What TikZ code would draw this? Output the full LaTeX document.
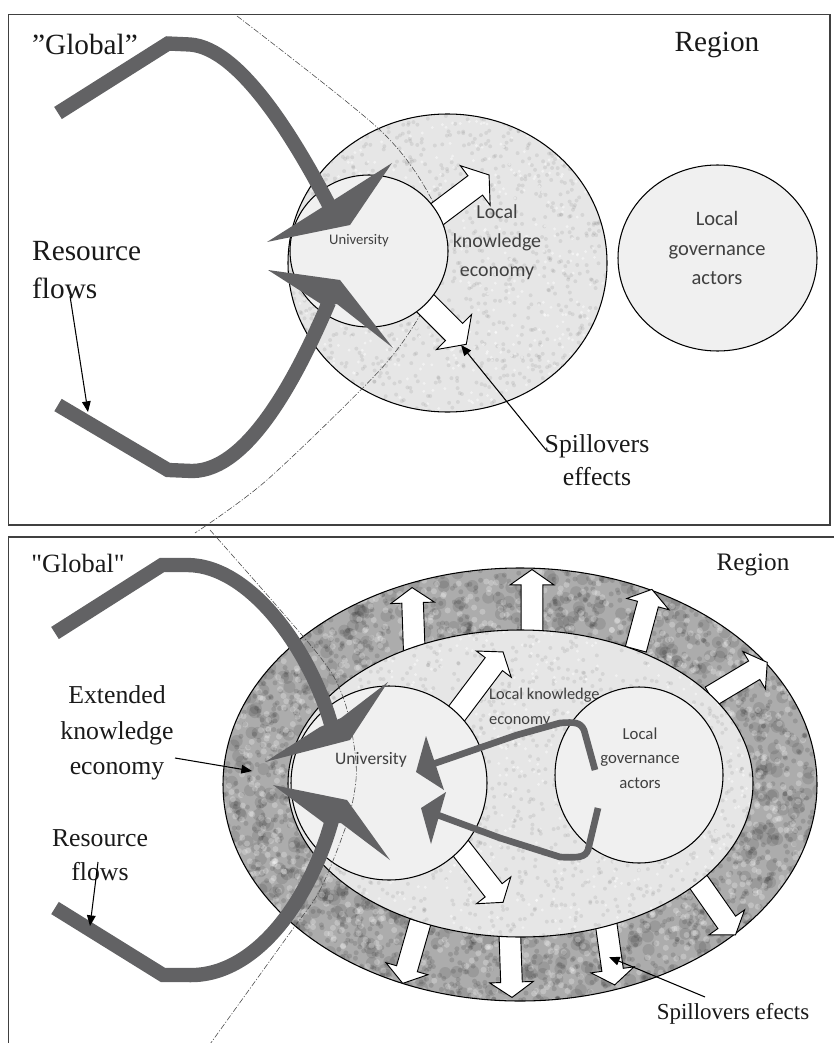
\documentclass[tikz,border=0pt]{standalone}
\usepackage{fontspec}
\setmainfont{Liberation Serif}
\newfontfamily\rawserif{Liberation Serif}[Ligatures=TeXOff]
\newfontfamily\calibri{Carlito}
\usetikzlibrary{arrows.meta,shapes.arrows}

\definecolor{bandgray}{RGB}{98,98,100}
\definecolor{ringdark}{RGB}{172,172,172}
\definecolor{ringlight}{RGB}{230,230,230}
\definecolor{circfill}{RGB}{240,240,240}

\begin{document}
\begin{tikzpicture}[
    x=0.03cm, y=-0.03cm,
    frame/.style={draw=black!75, line width=1.4pt},
    zone/.style={draw=black, line width=0.9pt},
    disc/.style={draw=black, line width=0.9pt, fill=circfill},
    band/.style={draw=bandgray, line width=0.43cm, line join=miter},
    thinband/.style={draw=bandgray, line width=0.2cm, line join=round},
    bandhead/.style={fill=bandgray},
    border/.style={draw=black!70, line width=0.5pt, dash pattern=on 5pt off 1.5pt on 1pt off 1.5pt},
    spill/.style={single arrow, draw=black, fill=white, line width=0.8pt,
        inner xsep=0pt, inner ysep=0.31cm, minimum width=0pt,
        single arrow head extend=0.33cm, single arrow tip angle=110,
        anchor=tail, minimum height=#1*0.03cm},
    bigspill/.style={inner ysep=0.35cm, single arrow head extend=0.38cm},
    pointer/.style={-{Triangle[length=0.32cm, width=0.26cm]}, line width=0.9pt},
    lbl/.style={inner sep=0pt, text=black!90, align=center},
    sans/.style={inner sep=0pt, text=black!75, align=center, font=\calibri}
]
\useasboundingbox (0,0) rectangle (833,1043);
\pgfmathsetseed{12}

% ---------------- Top panel ----------------
\draw[frame] (8.5,14.5) rectangle (830,525);

% Local knowledge economy
\fill[ringlight] (447.5,263) ellipse (159.5 and 149);
\begin{scope}
    \clip (447.5,263) ellipse (159.5 and 149);
    \foreach \i in {1,...,1100} {
        \pgfmathsetmacro{\sx}{288+319*rnd}
        \pgfmathsetmacro{\sy}{114+298*rnd}
        \fill[black, opacity=0.07] (\sx,\sy) circle (2);
    }
    \foreach \i in {1,...,500} {
        \pgfmathsetmacro{\sx}{288+319*rnd}
        \pgfmathsetmacro{\sy}{114+298*rnd}
        \fill[white, opacity=0.45] (\sx,\sy) circle (1.6);
    }
\end{scope}
\draw[zone] (447.5,263) ellipse (159.5 and 149);

% Border of the region
\draw[border] plot[smooth] coordinates {(237,16) (380,130) (432,200) (446,255) (423,310) (380,370) (267,480) (195,533)};

% Spillovers
\node[spill=69, bigspill, rotate=37] (s11) at (433.6,216.8) {};
\node[spill=66, bigspill, rotate=-45] (s12) at (419.3,297.3) {};

% University
\draw[disc] (369,251) ellipse (79 and 76);
\node[sans, font=\calibri\fontsize{12.5}{15}\selectfont] (uni1) at (359,241) {University};

% Local governance actors
\draw[disc] (717.5,258) ellipse (99.5 and 93);
\node[sans, font=\calibri\fontsize{17.5}{25.5}\selectfont] (lga1) at (717,248) {Local\\governance\\actors};
\node[sans, font=\calibri\fontsize{17}{24.5}\selectfont] (lke1) at (497,242) {Local\\knowledge\\economy};

% Resource flows
\draw[band] (58,113) -- (168,43.5) -- (190,44.5) .. controls (240,48) and (295,140) .. (329,205);
\fill[bandhead] (321,208) -- (267,242) -- (350,225) -- (392,163) -- (337,198) -- cycle;
\draw[band] (58,405) -- (168,470) -- (192,471) .. controls (250,471) and (300,370) .. (329,302);
\fill[bandhead] (321,304) -- (268,270) -- (340,280) -- (393,348) -- (337,304) -- cycle;

% Labels
\node[lbl, font=\fontsize{25}{33}\selectfont] (glob1) at (85,44) {”Global”};
\node[lbl, font=\fontsize{25}{33}\selectfont] (reg1) at (717,45) {Region};
\node[lbl, align=left, anchor=west, font=\fontsize{25}{33}\selectfont] (res1) at (32,270) {Resource\\flows};
\node[lbl, font=\fontsize{22}{28}\selectfont] (sp1) at (597,460) {Spillovers\\effects};

\coordinate (rf1a) at (70,296);
\coordinate (rf1b) at (88,412);
\draw[pointer] (rf1a) -- (rf1b);
\coordinate (sp1a) at (546,450);
\coordinate (sp1b) at (461,345);
\draw[pointer] (sp1a) -- (sp1b);

% ---------------- Bottom panel ----------------
\draw[frame] (8.5,537) rectangle (840,1060);

% Extended knowledge economy
\fill[ringdark] (520,784.5) ellipse (297 and 216.5);
\begin{scope}
    \clip (520,784.5) ellipse (297 and 216.5);
    \foreach \i in {1,...,500} {
        \pgfmathsetmacro{\ra}{360*rnd}
        \pgfmathsetmacro{\rr}{0.68+0.34*rnd}
        \fill[black, opacity=0.1] ({520+297*\rr*cos(\ra)},{784.5+216.5*\rr*sin(\ra)}) circle (6);
    }
    \foreach \i in {1,...,1500} {
        \pgfmathsetmacro{\ra}{360*rnd}
        \pgfmathsetmacro{\rr}{0.68+0.34*rnd}
        \fill[black, opacity=0.12] ({520+297*\rr*cos(\ra)},{784.5+216.5*\rr*sin(\ra)}) circle (2.5);
    }
    \foreach \i in {1,...,900} {
        \pgfmathsetmacro{\ra}{360*rnd}
        \pgfmathsetmacro{\rr}{0.68+0.34*rnd}
        \fill[white, opacity=0.25] ({520+297*\rr*cos(\ra)},{784.5+216.5*\rr*sin(\ra)}) circle (3);
    }
\end{scope}
\draw[zone] (520,784.5) ellipse (297 and 216.5);

% Spillovers through the extended economy
\node[spill=64, rotate=92] (s1) at (414.3,652) {};
\node[spill=67, rotate=90] (s2) at (532,637) {};
\node[spill=62, rotate=75] (s3) at (635.7,649.7) {};
\node[spill=66, rotate=31] (s4) at (710.3,696.6) {};
\node[spill=67, rotate=-55] (s5) at (696.8,879.6) {};
\node[spill=64, rotate=-82] (s6) at (605.7,921.1) {};
\node[spill=66, rotate=-88] (s7) at (509.7,931) {};
\node[spill=64, rotate=-106] (s8) at (420.5,921.4) {};

% Local knowledge economy
\fill[ringlight] (520.5,783.5) ellipse (232.5 and 153.5);
\begin{scope}
    \clip (520.5,783.5) ellipse (232.5 and 153.5);
    \foreach \i in {1,...,1300} {
        \pgfmathsetmacro{\sx}{288+465*rnd}
        \pgfmathsetmacro{\sy}{630+307*rnd}
        \fill[black, opacity=0.07] (\sx,\sy) circle (2);
    }
    \foreach \i in {1,...,600} {
        \pgfmathsetmacro{\sx}{288+465*rnd}
        \pgfmathsetmacro{\sy}{630+307*rnd}
        \fill[white, opacity=0.45] (\sx,\sy) circle (1.6);
    }
\end{scope}
\draw[zone] (520.5,783.5) ellipse (232.5 and 153.5);

% Spillovers from the university
\node[spill=79, rotate=53] (s9) at (455.2,715.4) {};
\node[spill=79, rotate=-52] (s10) at (454.1,839.7) {};

% University
\draw[disc] (389,783) ellipse (98 and 97);
\node[sans, font=\calibri\fontsize{15}{18}\selectfont] (uni2) at (371,760) {University};

% Local governance actors
\node[sans, align=left, anchor=west, font=\calibri\fontsize{14}{21}\selectfont] (lke2) at (489,707.5) {Local knowledge\\economy};
\draw[disc] (639,775) ellipse (84 and 88);
\node[sans, font=\calibri\fontsize{14.3}{21}\selectfont] (lga2) at (640,758) {Local\\governance\\actors};

% Flows from the local actors
\draw[thinband] (595,770) -- (584,730) .. controls (580,722) and (575,722) .. (560,723) -- (517,735) -- (433,764);
\fill[bandhead] (426,736) -- (416,772) -- (444,790) -- cycle;
\draw[thinband] (598,808) -- (588,850) .. controls (585,857) and (580,858) .. (560,857) -- (500,838) -- (435,814);
\fill[bandhead] (446,792) -- (421,808) -- (431,844) -- cycle;

% Border of the region
\draw[border] plot[smooth] coordinates {(210,530) (317,653) (343,697) (354,745) (356,780) (347,823) (320,890) (287,937) (200,1058)};

% Resource flows
\draw[band] (55,633) -- (162,565) -- (187,565) .. controls (250,565) and (310,650) .. (331,724);
\fill[bandhead] (320,727) -- (265,762) -- (350,740) -- (388,682) -- (341,718) -- cycle;
\draw[band] (55,908) -- (163,975) -- (187,975) .. controls (255,978) and (310,900) .. (332,820);
\fill[bandhead] (324,823) -- (273,785) -- (347,800) -- (390,860) -- (341,823) -- cycle;

% Labels
\node[lbl, font=\rawserif\fontsize{22.5}{30}\selectfont] (glob2) at (78,563) {"Global"};
\node[lbl, font=\fontsize{21.5}{30}\selectfont] (reg2) at (753,565) {Region};
\node[lbl, font=\fontsize{22}{30.3}\selectfont] (ext2) at (117,733) {Extended\\knowledge\\economy};
\node[lbl, font=\fontsize{22}{29}\selectfont] (res2) at (100,855) {Resource\\flows};
\node[lbl, font=\fontsize{19.6}{24}\selectfont] (sp2) at (733,1014) {Spillovers efects};

\coordinate (ex2a) at (175,758);
\coordinate (ex2b) at (252,771);
\draw[pointer] (ex2a) -- (ex2b);
\coordinate (rf2a) at (98,862);
\coordinate (rf2b) at (90,926);
\draw[pointer] (rf2a) -- (rf2b);
\coordinate (sp2a) at (705,997);
\coordinate (sp2b) at (609,957);
\draw[pointer] (sp2a) -- (sp2b);

\end{tikzpicture}
\end{document}
